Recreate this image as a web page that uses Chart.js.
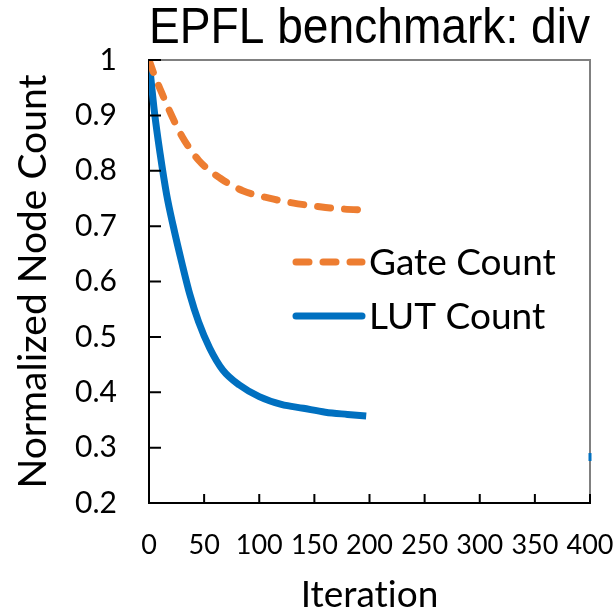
<!DOCTYPE html>
<html>
<head>
<meta charset="utf-8">
<script src="https://cdn.jsdelivr.net/npm/chart.js@4/dist/chart.umd.min.js"></script>
<style>
  html, body { margin: 0; padding: 0; background: #fff; }
  #wrap { width: 615px; height: 614px; }
</style>
</head>
<body>
<div id="wrap"><canvas id="chart" width="615" height="614"></canvas></div>
<script>
// values
const gateIter = [0, 5, 10, 20, 30, 45, 65, 85, 110, 130, 155, 175, 197];
const gateCount = [1.0, 0.972, 0.948, 0.902, 0.862, 0.819, 0.786, 0.764, 0.75, 0.742, 0.735, 0.731, 0.729];

const lutIter = [0, 5, 10, 16, 22, 30, 37, 45, 55, 67, 82, 100, 120, 140, 160, 180, 197];
const lutCount = [1.0, 0.905, 0.832, 0.757, 0.70, 0.632, 0.577, 0.527, 0.48, 0.44, 0.413, 0.392, 0.378, 0.371, 0.364, 0.36, 0.357];

// lone LUT point sitting on the right border
const lutTailIter = [400];
const lutTailCount = [0.283];

const xTicks = [0, 50, 100, 150, 200, 250, 300, 350, 400];
const yTicks = [0.2, 0.3, 0.4, 0.5, 0.6, 0.7, 0.8, 0.9, 1];

const orange = '#ED7D31';
const blue = '#0070C0';
const tickFont = 'Lato';

function pts(xs, ys) {
    return xs.map((x, i) => ({ x: x, y: ys[i] }));
}

// gray top/right frame, inward ticks and the legend inside the plot
const framePlugin = {
    id: 'frame',
    beforeDraw(chart) {
        chart.ctx.textRendering = 'optimizeSpeed'; // no "ti" ligature
    },
    beforeDatasetsDraw(chart) {
        const { ctx, chartArea: a } = chart;
        ctx.save();
        ctx.strokeStyle = '#808080';
        ctx.lineWidth = 2;
        ctx.beginPath();
        ctx.moveTo(a.left, a.top);
        ctx.lineTo(a.right, a.top);
        ctx.lineTo(a.right, a.bottom);
        ctx.stroke();
        ctx.restore();
    },
    afterDatasetsDraw(chart) {
        const { ctx, chartArea: a, scales } = chart;
        ctx.save();
        ctx.strokeStyle = '#000';
        ctx.lineWidth = 2;
        ctx.beginPath();
        xTicks.forEach(v => {
            const px = scales.x.getPixelForValue(v);
            ctx.moveTo(px, a.bottom);
            ctx.lineTo(px, a.bottom - 9);
        });
        yTicks.forEach(v => {
            const py = scales.y.getPixelForValue(v);
            ctx.moveTo(a.left, py);
            ctx.lineTo(a.left + 12, py);
        });
        ctx.stroke();

        const items = [
            { ds: chart.data.datasets[0], y: 262 },
            { ds: chart.data.datasets[1], y: 316 }
        ];
        items.forEach(it => {
            ctx.strokeStyle = it.ds.borderColor;
            ctx.lineWidth = it.ds.borderWidth;
            ctx.lineCap = 'round';
            ctx.setLineDash(it.ds.borderDash || []);
            ctx.beginPath();
            ctx.moveTo(296, it.y);
            ctx.lineTo(362, it.y);
            ctx.stroke();
            ctx.setLineDash([]);
            ctx.fillStyle = '#000';
            ctx.font = '37px ' + tickFont;
            ctx.textBaseline = 'middle';
            ctx.textAlign = 'left';
            ctx.fillText(it.ds.label, 369, it.y + 1);
        });
        ctx.restore();
    }
};

new Chart(document.getElementById('chart'), {
    type: 'line',
    data: {
        datasets: [
            {
                label: 'Gate Count',
                data: pts(gateIter, gateCount),
                borderColor: orange,
                borderWidth: 7,
                borderDash: [13, 14],
                borderCapStyle: 'round',
                pointRadius: 0,
                cubicInterpolationMode: 'monotone'
            },
            {
                label: 'LUT Count',
                data: pts(lutIter, lutCount),
                borderColor: blue,
                borderWidth: 7,
                pointRadius: 0,
                cubicInterpolationMode: 'monotone'
            },
            {
                label: 'LUT tail',
                data: pts(lutTailIter, lutTailCount),
                showLine: false,
                borderColor: blue,
                pointStyle: 'line',
                rotation: 90,
                pointRadius: 4,
                pointBorderWidth: 3,
                pointBorderColor: blue,
                clip: false
            }
        ]
    },
    options: {
        responsive: false,
        animation: false,
        layout: { padding: 0 },
        plugins: {
            legend: { display: false },
            tooltip: { enabled: false },
            title: {
                display: true,
                text: 'EPFL benchmark: div',
                fullSize: false,
                color: '#000',
                font: { family: 'Liberation Sans', size: 50, weight: 'normal', lineHeight: 1.1 },
                padding: { top: 1.5, bottom: 3.5 }
            }
        },
        scales: {
            x: {
                type: 'linear',
                min: 0,
                max: 400,
                afterBuildTicks: s => { s.ticks = xTicks.map(v => ({ value: v })); },
                afterFit: s => {
                    s.height = 111;
                    s.paddingLeft = 0;
                    s.paddingRight = 25;
                },
                grid: { display: false, drawTicks: false },
                border: { display: true, color: '#000', width: 2 },
                ticks: {
                    color: '#000',
                    font: { family: tickFont, size: 27 },
                    padding: 26,
                    maxRotation: 0,
                    autoSkip: false
                },
                title: {
                    display: true,
                    text: 'Iteration',
                    color: '#000',
                    font: { family: tickFont, size: 37, lineHeight: 1 },
                    padding: { top: 0, bottom: 0 }
                }
            },
            y: {
                min: 0.2,
                max: 1,
                afterBuildTicks: s => { s.ticks = yTicks.map(v => ({ value: v })); },
                afterFit: s => { s.width = 149; },
                grid: { display: false, drawTicks: false },
                border: { display: true, color: '#000', width: 2 },
                ticks: {
                    color: '#000',
                    font: { family: tickFont, size: 30 },
                    padding: 32,
                    callback: v => (v === 1 ? '1' : v.toFixed(1))
                },
                title: {
                    display: true,
                    text: 'Normalized Node Count',
                    color: '#000',
                    font: { family: tickFont, size: 39, lineHeight: 1 },
                    padding: { top: 14, bottom: 0 }
                }
            }
        }
    },
    plugins: [framePlugin]
});
</script>
</body>
</html>
